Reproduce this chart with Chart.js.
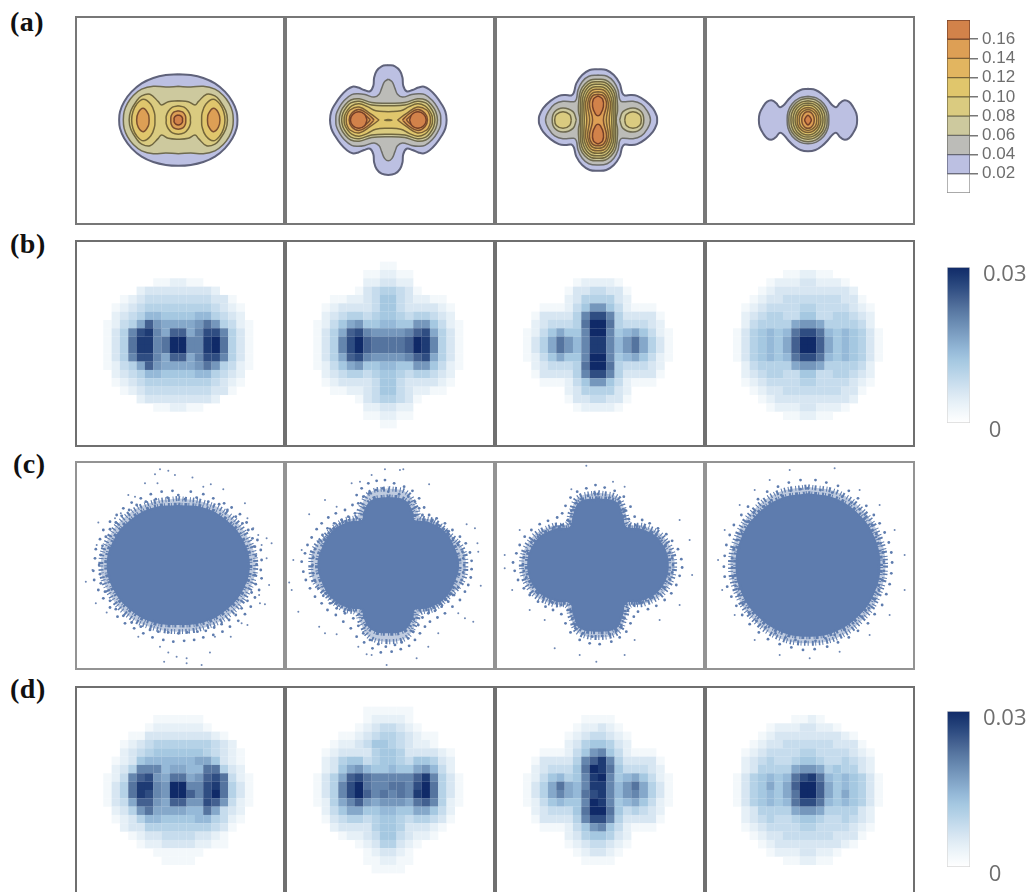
<!DOCTYPE html>
<html>
<head>
<meta charset="utf-8">
<script src="https://cdn.jsdelivr.net/npm/chart.js@4"></script>
<style>
html, body { margin: 0; padding: 0; background: #fff; width: 1034px; height: 892px; overflow: hidden; }
#page { position: relative; width: 1034px; height: 892px; overflow: hidden; }
canvas { position: absolute; }
canvas.panel { filter: blur(0.6px); }
.tag { position: absolute; font: bold 28px "Liberation Serif", serif; color: #111; line-height: 1; letter-spacing: 0.5px; }
</style>
</head>
<body>
<div id="page"></div>
<script>
// contour bands, low to high
const legendTicks = [0.02, 0.04, 0.06, 0.08, 0.10, 0.12, 0.14, 0.16];
const legendBands = [0.02, 0.02, 0.02, 0.02, 0.02, 0.02, 0.02, 0.02, 0.02];
const legendFill = ['#ffffff', '#bcc0e2', '#bcbcb8', '#cdc99e', '#dacb80', '#e0c66c', '#e2b560', '#dd9f55', '#d2824a'];
const legendLine = ['#8e8e8e', '#5f627a', '#6c6c68', '#6e6a50', '#6f6640', '#74663a', '#7a5f35', '#7a4f30', '#743f28'];

// colour bar
const barMax = 0.03;
const barTicks = [0, 0.03];
const heatColors = ['#ffffff', '#f3f8fb', '#e6f0f7', '#d7e6f2', '#c6dced', '#b5d2e7', '#a5c8e1', '#95b9d8',
  '#85a8ca', '#7597bc', '#6586ae', '#55749f', '#436090', '#2f4d82', '#1e3b74', '#102a68'];

// row (a): [band, kind, x,y list]. q = one quadrant, h = upper half of a side lobe, v = right half of a top lobe
const contoursA1 = [
  [1, 'q', [0,5.5, 1.5,5.4, 3,5.05, 4.4,4.4, 5.6,3.4, 6.5,2.2, 7,1, 7.1,0]],
  [3, 'q', [0,4.05, 1.5,3.95, 3,4.05, 4.4,3.7, 5.4,2.95, 6.1,2, 6.5,1, 6.6,0]],
  [4, 'q', [0,2.3, 1.2,2.2, 2,1.8, 2.4,2.2, 3.4,3.1, 4.4,2.9, 5,2.3, 5.7,1.1, 5.9,0]],
  [5, 'h', [2.8,0, 2.85,0.8, 3.3,1.9, 4.2,2.5, 5,1.9, 5.45,1, 5.6,0]],
  [5, 'q', [0,1.7, 0.7,1.55, 1.2,1.05, 1.45,0.45, 1.45,0]],
  [7, 'h', [3.5,0, 3.6,0.7, 4.2,1.4, 4.8,0.9, 5,0]],
  [7, 'q', [0,1.1, 0.55,0.95, 0.85,0.5, 0.9,0]],
  [8, 'q', [0,0.6, 0.3,0.5, 0.5,0.25, 0.5,0]]
];
const contoursA2 = [
  [1, 'q', [0,6.6, 0.8,6.45, 1.4,5.9, 1.7,5.1, 1.8,4.1, 2.2,3.45, 2.9,3.6, 3.6,3.9, 4.3,4, 5,3.6, 5.7,2.9, 6.4,1.9, 6.85,1, 7,0]],
  [2, 'q', [0,4.9, 0.45,4.6, 0.8,3.8, 1.1,3.1, 1.7,2.75, 2.8,3.05, 3.6,3.15, 4.4,3.05, 5.3,2.35, 5.9,1.5, 6.25,0.7, 6.3,0]],
  [3, 'q', [0,2, 2,2.1, 3.5,2.55, 4.5,2.4, 5.2,1.8, 5.7,1, 5.9,0]],
  [4, 'q', [0,1.7, 2,1.8, 3.5,2.25, 4.5,2.05, 5.05,1.5, 5.45,0.8, 5.6,0]],
  [5, 'q', [0,1, 1.5,1.1, 2.5,1.6, 3.5,1.95, 4.4,1.7, 4.95,1.1, 5.25,0.5, 5.3,0]],
  [6, 'h', [1.1,0, 2.2,0.8, 3.5,1.55, 4.6,1.2, 5,0.5, 5.05,0]],
  [7, 'h', [1.7,0, 2.5,0.75, 3.55,1.25, 4.4,0.8, 4.7,0]],
  [7, 'h', [2.15,0, 2.8,0.6, 3.55,0.95, 4.2,0.6, 4.4,0]],
  [8, 'h', [2.55,0, 2.85,0.7, 3.55,1, 4.25,0.7, 4.55,0]],
  [5, 'q', [0,0.06, 0.45,0]]
];
const contoursA3 = [
  [1, 'q', [0,6.1, 1,6, 1.9,5.4, 2.6,4.4, 2.9,3.3, 3.2,2.95, 3.9,3, 4.7,2.9, 5.7,2.3, 6.6,1.4, 7.05,0.5, 7.1,0]],
  [2, 'q', [0,5.4, 1.1,5.25, 1.9,4.6, 2.4,3.6, 2.6,2.5, 2.9,2.2, 4.2,2.25, 5.2,1.9, 5.9,1.1, 6.3,0]],
  [3, 'h', [2.6,0, 3,1, 4.2,1.45, 5.2,1, 5.5,0]],
  [4, 'h', [3.2,0, 3.4,0.65, 4.2,1, 5,0.65, 5.2,0]],
  [3, 'q', [0,4.9, 0.9,4.8, 1.6,4.3, 2.1,3.5, 2.3,2.4, 2.35,1.1, 2.2,0.3, 2.2,0]],
  [4, 'q', [0,4.6, 0.85,4.5, 1.5,4, 1.95,3.2, 2.1,2.2, 2.1,0]],
  [4, 'q', [0,4.3, 0.8,4.2, 1.35,3.75, 1.75,3, 1.9,2.1, 1.9,0]],
  [5, 'q', [0,4, 0.7,3.9, 1.2,3.5, 1.55,2.8, 1.7,2, 1.65,0]],
  [6, 'q', [0,3.7, 0.65,3.6, 1.05,3.25, 1.35,2.6, 1.5,1.9, 1.35,0]],
  [6, 'q', [0,3.4, 0.55,3.3, 0.9,3, 1.15,2.4, 1.25,1.7, 1,0]],
  [7, 'q', [0,3.1, 0.5,3, 0.8,2.7, 1,2.2, 1,1.6, 0.65,0]],
  [8, 'v', [0,2.9, 0.55,2.5, 0.65,1.6, 0.3,0.7, 0,0.5]]
];
const contoursA4 = [
  [1, 'q', [0,3.75, 0.9,3.6, 1.7,3.1, 2.4,2.4, 3,1.7, 3.4,1.55, 3.8,2, 4.3,2.35, 4.9,2.2, 5.4,1.6, 5.8,0.8, 5.9,0]],
  [2, 'q', [0,2.85, 1,2.65, 1.9,1.95, 2.4,1, 2.5,0]],
  [3, 'q', [0,2.6, 0.9,2.42, 1.7,1.77, 2.2,0.9, 2.3,0]],
  [4, 'q', [0,2.3, 0.8,2.14, 1.55,1.56, 1.95,0.8, 2.05,0]],
  [4, 'q', [0,2.05, 0.7,1.9, 1.35,1.4, 1.7,0.7, 1.8,0]],
  [5, 'q', [0,1.8, 0.6,1.67, 1.15,1.2, 1.45,0.6, 1.55,0]],
  [6, 'q', [0,1.5, 0.5,1.4, 1,1, 1.25,0.5, 1.3,0]],
  [6, 'q', [0,1.25, 0.4,1.16, 0.8,0.85, 1,0.45, 1.05,0]],
  [7, 'q', [0,1, 0.3,0.93, 0.55,0.68, 0.7,0.35, 0.75,0]],
  [8, 'q', [0,0.6, 0.25,0.35, 0.4,0]]
];

// rows (b) and (d): density, one hex digit per cell (f = top of colour bar)
const heatB1 = ['000000000000000000','000000000000000000','000000112211000000','000023333333320000','001234444444433100',
  '012345555555543210','023457766667754320','12458c988889b95421','135adea8cc8adda531','135beeabffaaefb531',
  '135beeabffaaefb531','135adda8cc8adda531','12458c988889b95421','023457766667754320','012345555555543210',
  '001234444444433100','000023333333320000','000000112211000000','000000000000000000','000000000000000000'];
const heatB2 = ['000000001100000000','000000112211000000','000000223322000000','000001345543100000','001122346643221100',
  '012333346643333210','023455456654554320','124689667766996421','1358cda9999acd8531','135adfcbbbbcfea531',
  '135adfcbbbbcfea531','1358cda9999acd8531','124689667766996421','023455456654554320','012333346643333210',
  '001122346643221100','000001345543100000','000000223322000000','000000112211000000','000000001100000000'];
const heatB3 = ['000000000000000000','000000000000000000','000000122221000000','000001334433100000','000002355553200000',
  '001112469964211100','0133335adda5333310','0234445bffb5444320','1246866affa6786421','1358b97aeea79b8531',
  '1358b97aeea79b8531','1246866affa6786421','0234445bffb5444320','0133335adda5333310','001112469964211100',
  '000002355553200000','000001334433100000','000000122221000000','000000000000000000','000000000000000000'];
const heatB4 = ['000000000000000000','000000112211000000','000012223322210000','000123333333332000','001233444444433100',
  '012344445544443210','023455446644554320','024555589985555420','1356767bddb7676531','1356768cffc8676531',
  '1356768cffc8676531','1356767bddb7676531','024555589985555420','023455446644554320','012344445544443210',
  '001233444444433100','000123333333332000','000012223322210000','000000112211000000','000000000000000000'];
const heatD1 = ['000000000000000000','000000111111000000','000001222222100000','000113333333321000','001234555555543200',
  '002345666666543210','012367777778863210','0235aaa78877bb5320','124acd98bb89cdb421','135beea9ffaadeb531',
  '135beda9ffcadfb531','1348cc98cc99dc9421','02359b888877b84320','012357766667754210','002335555555543100',
  '000123344443321000','000012233332211000','000000111111000000','000000011110000000','000000000000000000'];
const heatD2 = ['000000111111000000','000000122221000000','000001234432100000','000112345543211000','001223466543221000',
  '012333356653333210','023566456654665320','023689766766897420','1358cdbaaaaacea531','135adfbaabbadfb531',
  '135adfcababaefb531','1258ac989998bca521','024688667766886420','013455456654554310','002333356653332100',
  '000122346643221000','000001235532100000','000000123321000000','000000112211000000','000000011110000000'];
const heatD3 = ['000000000000000000','000000011110000000','000000122321000000','000001234432100000','000002356653200000',
  '001112469a64211100','0133335acea5333310','0234446bfeb6444320','1246756aefa6786421','1358b87aeea79b8531',
  '1358a87bdea79a8531','1246766afea6786421','0234446bffb6454320','0133335adda5333310','001112469a64211100',
  '000002356653200000','000001234432100000','000000123321000000','000000011110000000','000000000000000000'];
const heatD4 = ['000000000000000000','000000011210000000','000012223322100000','000123333333321000','001233444444333100',
  '012344445544443210','023454456654454320','023555589985655320','1356767bdeb7676531','1356868cffc8676531',
  '1356768bffc8686531','1356767bddb7676531','023555589985555320','023454456654454320','012344445544443210',
  '001233444444333100','000123333333321000','000012223322100000','000000112211000000','000000000000000000'];

// row (c): dense core, thinning rim (quadrants) and the samples read around them
const cloudCore = [
  [0,7.2, 3,6.9, 5.5,5.6, 7.6,3.3, 8.6,0],
  [0,8.2, 2,7.8, 3,6.3, 3.2,5.4, 4.8,5.2, 6.8,4, 8,2, 8.5,0],
  [0,8, 2.2,7.6, 3,6, 3.4,4.6, 5,4.4, 7.4,3, 8.5,0],
  [0,8.6, 3.3,8, 6.2,6, 8,3.3, 8.7,0]
];
const cloudRim = [
  [0,8, 3.2,7.5, 6,6.1, 8.3,3.4, 9.3,0],
  [0,9.2, 2.2,8.7, 3.4,6.8, 3.8,5.8, 5.5,5.3, 7.6,3.5, 9,1.8, 9.3,0],
  [0,8.7, 2.4,8.1, 3.3,6.3, 3.8,4.9, 5.5,4.7, 8,3.2, 9.2,0],
  [0,9.4, 3.6,8.7, 6.7,6.4, 8.6,3.4, 9.3,0]
];
const cloudStray1 = [-2.2,11.5, -1.2,11.3, -2.8,10.9, -0.4,10.8, 1.7,10.5, -4,9.8, -2.5,9.8, 3.9,9.7, 3,9.4, 5.4,9.1,
  -9.6,5.1, 10.6,3.2, 11.2,2.6, -11.1,-2, -9.9,-4.6, 10.9,-2.4, 9.8,-4.6, 10.4,-4.7, -8.6,-5.7, 8.3,-7.2, 7.6,-7,
  -4.8,-8.6, -2.2,-9.8, -1.2,-10.5, -0.2,-11, 1,-11.2, 3.8,-10.5, 2.8,-12, 1,-11.8, -1.7,-11.6, 6.3,-8.6, 4.4,-8.6,
  -6,8.4, -5.2,8.2, -7.6,5.6, -6.9,6.2, -9.8,2.4, -10.3,-0.6, 9.6,3.6, 9,4.4, 8,7.4, 8.3,5.6, 10,2.4, 10.6,0.8, 9.7,-3.6];
const cloudStray2 = [-0.4,11.5, 1.4,11.4, -2,10.8, 1.8,11.5, 4.9,9.7, -3.4,10, -4.4,9.8, -7.6,7.8, -9.5,6.1, -6.2,7,
  10.4,4.4, 9.4,4.9, 10.7,2.6, 10.8,1.6, 11.1,-2.5, -11.6,-3, -11.9,-2.1, -11.4,0.6, -10.4,1.8, -10.8,-5.6, -8.3,-7.4,
  -7.6,-8.2, -6.2,-8.3, 10.2,-6.8, 9.2,-6.4, 6,-8.2, 3.4,-11.2, -0.2,-12, -2.6,-10.7, -3.6,-9.8, -2,-10.8, 4.8,-9.8, 8.4,-5.8];
const cloudStray3 = [-1.4,11.9, 1.8,10, -3.2,9.1, 3.2,9.4, -9.4,4.2, -11.2,1.2, -11.2,-0.4, -10.3,-3, 9.8,5.4, 11,3, 11.3,-1.2,
  9.8,-4.8, 7.4,-6.6, -6.4,-6.6, -8.2,-5.4, -5.2,-10, 3.2,-10.8, -0.2,-11.6, -2.2,-10.8, 4.4,-9];
const cloudStray4 = [0.8,12.4, 3.2,11.6, -2.2,11.4, -4.6,10.2, -6.4,9, 6.2,9, 8.6,7.2, 10.4,4.2, 11.6,1.2, 11.6,-3, 9.8,-6,
  7.4,-8.4, 3.8,-10.4, 0.2,-11.2, -3.4,-10.8, -6.4,-9, -8.8,-6, -10.3,-3, -10.8,0.6, -10,4.2, -8.2,7.2];
const cloudEdge1 = [0,8.4, 0.8,7.9, 1.5,8.8, 2.2,8.1, 3,8.5, 3.6,7.6, 4.2,8, 4.9,7.3, 5.5,7.4, 5.9,6.6, 6.4,6.9, 6.9,5.8, 7.4,6.1, 7.7,5,
  8.2,5.1, 8.4,4.2, 8.9,4.3, 8.9,3.2, 9.5,3, 9.2,2.2, 9.9,1.8, 9.3,1.1, 10,0.6, 9.4,0.1, 9.9,-0.6, 9.2,-1.2, 10,-1.6, 9.3,-2.3, 9.7,-3,
  8.8,-3.3, 9.2,-3.9, 8.3,-4.3, 8.7,-5, 7.6,-5.2, 8,-5.9, 6.9,-6, 7.2,-6.7, 6.1,-6.6, 6.2,-7.4, 5.2,-7.1, 5.3,-8, 4.3,-7.5, 4.2,-8.4,
  3.3,-7.9, 3,-8.7, 2.3,-8, 1.9,-9, 1.1,-8.1, 0.7,-9.1, 0,-8.2, -0.6,-9.2, -1.2,-8.1, -1.8,-9, -2.4,-8, -3.1,-8.7, -3.4,-7.8, -4.2,-8.2,
  -4.5,-7.4, -5.3,-7.6, -5.6,-6.9, -6.4,-7, -6.6,-6.1, -7.3,-6.2, -7.5,-5.3, -8.2,-5.1, -8.2,-4.3, -9,-4, -8.8,-3.2, -9.6,-3, -9.3,-2.2,
  -10.1,-1.8, -9.4,-1.1, -10.2,-0.7, -9.5,0, -10,0.8, -9.3,1.2, -9.9,1.9, -9.1,2.3, -9.4,3.1, -8.7,3.4, -9,4.2, -8.2,4.3, -8.2,5.2,
  -7.5,5.1, -7.4,6, -6.8,5.9, -6.6,6.8, -5.9,6.6, -5.6,7.5, -5,7.2, -4.5,8, -3.9,7.6, -3.3,8.5, -2.7,7.9, -2,8.8, -1.3,8.1, -0.7,8.9];
const cloudEdge2 = [0,8.8, 0.7,9.8, 1.3,8.5, 1.9,9.4, 2.4,8.2, 2.9,8.9, 3.2,7.6, 3.7,8, 3.7,6.8, 4.3,6.9, 4.1,6, 4.9,6, 5.3,5.4, 5.8,5.6,
  6.2,4.7, 6.8,5, 7.1,4.1, 7.7,4.2, 7.8,3.2, 8.6,3.4, 8.4,2.4, 9.3,2.6, 8.9,1.6, 9.8,1.5, 9,0.8, 10,0.5, 9.1,0, 10,-0.5, 9,-0.9, 9.9,-1.5,
  8.8,-1.8, 9.6,-2.4, 8.4,-2.7, 9.2,-3.2, 7.9,-3.6, 8.6,-4.2, 7.2,-4.4, 7.7,-5, 6.4,-5, 6.8,-5.8, 5.6,-5.5, 5.9,-6.3, 4.8,-5.8, 5,-6.8,
  4.1,-6.3, 4.4,-7.4, 3.6,-7.2, 3.8,-8.2, 3,-8, 3.2,-9, 2.4,-8.8, 2.5,-9.7, 1.6,-9.3, 1.5,-10.1, 0.8,-9.6, 0.4,-10.4, -0.3,-9.8, -0.9,-10.5,
  -1.2,-9.5, -1.9,-10, -2.2,-9, -2.9,-9.3, -3,-8.2, -3.8,-8.6, -3.6,-7.3, -4.5,-7.6, -4.2,-6.4, -5.4,-6.8, -5.2,-5.8, -6.3,-6, -6.2,-5.2,
  -7.3,-5.4, -7,-4.6, -8,-4.6, -7.8,-3.7, -8.8,-3.8, -8.4,-2.8, -9.4,-2.8, -8.8,-1.9, -9.9,-1.8, -9,-1, -10.2,-0.8, -9.1,0, -10.4,0.4,
  -9,0.9, -10,1.4, -8.8,1.9, -9.7,2.4, -8.4,2.8, -9.2,3.3, -7.9,3.6, -8.6,4.3, -7.3,4.4, -8,5, -6.5,5, -7.2,5.7, -5.6,5.4, -6.3,6.2,
  -4.8,5.8, -5.2,6.6, -4,6.2, -4.3,7.2, -3.6,7.4, -3.8,8.4, -3,8.2, -3.2,9.2, -2.3,8.6, -2.4,9.8, -1.5,9, -1.4,10.1, -0.7,9.2, -0.4,10.2];
const cloudEdge3 = [0,8.5, 0.8,9.3, 1.4,8.1, 2,8.9, 2.6,7.6, 3.1,8.2, 3.2,6.6, 3.9,7, 3.7,5.5, 4.4,5.8, 4.5,4.8, 5.3,5.4, 5.6,4.5, 6.2,5,
  6.5,3.9, 7.2,4.4, 7.4,3.2, 8.2,3.7, 8.1,2.4, 8.9,2.9, 8.6,1.5, 9.6,1.9, 8.9,0.8, 10,0.7, 9,0, 10.1,-0.3, 8.9,-0.9, 9.8,-1.3, 8.6,-1.7,
  9.4,-2.4, 8,-2.7, 8.8,-3.4, 7.2,-3.4, 8,-4.2, 6.3,-4, 7,-4.9, 5.3,-4.5, 6,-5.3, 4.3,-4.8, 4.8,-5.6, 3.6,-5.4, 4.3,-6.2, 3.2,-6.4, 3.9,-7,
  2.8,-7.4, 3.4,-8, 2.2,-7.9, 2.6,-8.7, 1.4,-8.3, 1.6,-9.2, 0.5,-8.5, 0.2,-9.5, -0.7,-8.6, -1,-9.4, -1.8,-8.2, -2.2,-9, -2.7,-7.6, -3.3,-8.1,
  -3.1,-6.5, -3.9,-7, -3.6,-5.4, -4.4,-5.9, -4.4,-4.8, -5.4,-5.4, -5.5,-4.5, -6.3,-5, -6.5,-3.9, -7.2,-4.4, -7.4,-3.2, -8.2,-3.6, -8,-2.4,
  -8.9,-2.8, -8.6,-1.5, -9.6,-1.8, -8.9,-0.7, -10,-0.7, -9,0.1, -10.2,0.3, -8.9,0.9, -9.8,1.4, -8.5,1.7, -9.4,2.4, -8,2.7, -8.8,3.4, -7.2,3.4,
  -8,4.2, -6.3,4, -7,4.9, -5.3,4.5, -6,5.3, -4.3,4.8, -4.9,5.7, -3.6,5.4, -4.3,6.2, -3.2,6.5, -3.9,7.1, -2.7,7.4, -3.3,8.1, -2,7.9, -2.5,8.8,
  -1.2,8.3, -1.4,9.2, -0.4,8.6, -0.3,9.6];
const cloudEdge4 = [0,9.2, 0.9,10.2, 1.5,9, 2.2,9.9, 2.9,8.7, 3.6,9.5, 4.1,8.2, 4.9,8.9, 5.2,7.5, 6,8, 6.2,6.7, 7,7.1, 7,5.8, 7.9,6, 7.7,4.8,
  8.6,5, 8.2,3.7, 9.2,3.9, 8.7,2.6, 9.7,2.7, 9,1.5, 10,1.5, 9.1,0.4, 10.1,0.3, 9.1,-0.7, 10,-1, 8.9,-1.8, 9.8,-2.3, 8.5,-3, 9.4,-3.5, 8,-4.1,
  8.9,-4.8, 7.3,-5.2, 8,-5.9, 6.5,-6.2, 7.2,-7, 5.4,-7, 6,-7.9, 4.4,-7.8, 4.9,-8.7, 3.2,-8.4, 3.6,-9.3, 2.1,-8.8, 2.3,-9.8, 0.9,-9.1, 0.8,-10.1,
  -0.3,-9.2, -0.6,-10.2, -1.5,-9, -2,-9.9, -2.7,-8.7, -3.4,-9.5, -3.9,-8.2, -4.8,-8.9, -5.1,-7.5, -5.9,-8.1, -6.2,-6.7, -7,-7.1, -7.1,-5.7,
  -7.9,-6, -7.8,-4.7, -8.6,-4.9, -8.3,-3.6, -9.2,-3.8, -8.7,-2.5, -9.7,-2.6, -9,-1.4, -10,-1.4, -9.1,-0.3, -10.1,-0.2, -9.1,0.8, -10,1.1,
  -8.9,1.9, -9.8,2.4, -8.5,3, -9.4,3.6, -8,4.1, -8.9,4.8, -7.3,5.2, -8,6, -6.5,6.3, -7.2,7, -5.4,7, -6,7.9, -4.4,7.8, -4.9,8.8, -3.2,8.4,
  -3.6,9.4, -2.1,8.9, -2.3,9.9, -0.9,9.1, -0.9,10.2];

// page layout
const cellPx = 8.33;
const columnLeft = [75, 285, 495, 705];
const columnWidth = 210;
const midX = [178.3, 388.3, 598, 808];
const rowsLayout = {
  a: {top: 16, height: 209, mid: 120, color: '#777777'},
  b: {top: 240, height: 207, mid: 345, color: '#6f6f6f'},
  c: {top: 461, height: 209, mid: 565, color: '#939393'},
  d: {top: 686, height: 209, mid: 790, color: '#6f6f6f'}
};

const page = document.getElementById('page');

function addCanvas(left, top, width, height, cls) {
  const c = document.createElement('canvas');
  c.width = width;
  c.height = height;
  c.style.left = left + 'px';
  c.style.top = top + 'px';
  c.style.width = width + 'px';
  c.style.height = height + 'px';
  if (cls) c.className = cls;
  page.appendChild(c);
  return c;
}

function toPoints(list) {
  const pts = [];
  for (let i = 0; i < list.length; i += 2) pts.push({x: list[i], y: list[i + 1]});
  return pts;
}

// close a listed outline by reflecting it over the axes
function closeQuadrant(list) {
  const p = toPoints(list);
  const lower = p.slice(0, -1).reverse().map(o => ({x: o.x, y: -o.y}));
  const right = p.concat(lower);
  const left = right.slice(0, -1).reverse().map(o => ({x: -o.x, y: o.y}));
  return [right.concat(left)];
}
function closeSideLobes(list) {
  const p = toPoints(list);
  const lower = p.slice(0, -1).reverse().map(o => ({x: o.x, y: -o.y}));
  const lobe = p.concat(lower);
  return [lobe, lobe.map(o => ({x: -o.x, y: o.y}))];
}
function closeTopLobes(list) {
  const p = toPoints(list);
  const left = p.slice(0, -1).reverse().map(o => ({x: -o.x, y: o.y}));
  const lobe = p.concat(left);
  return [lobe, lobe.map(o => ({x: o.x, y: -o.y}))];
}

function contourSets(contours) {
  const sets = [];
  contours.forEach(function (c) {
    const shapes = c[1] === 'q' ? closeQuadrant(c[2]) : c[1] === 'h' ? closeSideLobes(c[2]) : closeTopLobes(c[2]);
    shapes.forEach(function (shape) {
      sets.push({
        data: shape, showLine: true, pointRadius: 0, tension: 0.4, fill: 'shape',
        backgroundColor: legendFill[c[0]], borderColor: legendLine[c[0]],
        borderWidth: c[0] === 1 ? 2 : 1.5
      });
    });
  });
  // first dataset is painted last
  return sets.reverse();
}

function heatSets(rows) {
  const pts = [];
  rows.forEach(function (row, r) {
    for (let c = 0; c < row.length; c++) {
      const v = parseInt(row[c], 16);
      if (v > 0) pts.push({x: c - 8.5, y: 9.5 - r, v: v / 15 * barMax});
    }
  });
  return [{
    data: pts, pointStyle: 'rect', pointRadius: 6, pointBorderWidth: 0, pointHoverRadius: 6,
    pointBackgroundColor: pts.map(p => heatColors[Math.round(p.v / barMax * 15)])
  }];
}

function cloudSets(core, rim, stray, edge) {
  const blue = '#5e7cae';
  return [
    {data: toPoints(stray), pointRadius: 1, pointBorderWidth: 0, pointBackgroundColor: '#6f88b4'},
    {data: toPoints(edge), pointRadius: 1.4, pointBorderWidth: 0, pointBackgroundColor: blue},
    // broken strokes along the two outlines stand in for the grainy edge of the sample cloud
    {data: closeQuadrant(core)[0], showLine: true, pointRadius: 0, tension: 0.4, fill: 'shape', backgroundColor: blue,
      borderColor: blue, borderWidth: 5, borderDash: [2, 1, 1, 2, 3, 1, 1, 3]},
    {data: closeQuadrant(rim)[0], showLine: true, pointRadius: 0, tension: 0.4, fill: 'shape', backgroundColor: 'rgba(94,124,174,0.4)',
      borderColor: blue, borderWidth: 5, borderDash: [1.5, 2.5, 1, 1.5, 2, 3, 1, 2]}
  ];
}

const framePlugin = {
  id: 'frame',
  afterDraw(chart, args, opts) {
    const a = chart.chartArea, ctx = chart.ctx;
    ctx.save();
    ctx.strokeStyle = opts.color;
    ctx.lineWidth = 2;
    ctx.strokeRect(a.left + 1, a.top + 1, a.width - 2, a.height - 2);
    ctx.restore();
  }
};

function panel(col, rowName, datasets) {
  const left = columnLeft[col], row = rowsLayout[rowName];
  const canvas = addCanvas(left, row.top, columnWidth, row.height, 'panel');
  new Chart(canvas.getContext('2d'), {
    type: 'scatter',
    data: {datasets: datasets},
    options: {
      responsive: false, animation: false, devicePixelRatio: 1,
      plugins: {legend: {display: false}, tooltip: {enabled: false}, frame: {color: row.color}},
      layout: {padding: 0, autoPadding: false},
      scales: {
        x: {display: false, min: (left - midX[col]) / cellPx, max: (left + columnWidth - midX[col]) / cellPx},
        y: {display: false, min: (row.mid - row.top - row.height) / cellPx, max: (row.mid - row.top) / cellPx}
      }
    },
    plugins: [framePlugin]
  });
}

[contoursA1, contoursA2, contoursA3, contoursA4].forEach((c, i) => panel(i, 'a', contourSets(c)));
[heatB1, heatB2, heatB3, heatB4].forEach((h, i) => panel(i, 'b', heatSets(h)));
[[cloudStray1, cloudEdge1], [cloudStray2, cloudEdge2], [cloudStray3, cloudEdge3], [cloudStray4, cloudEdge4]]
  .forEach((s, i) => panel(i, 'c', cloudSets(cloudCore[i], cloudRim[i], s[0], s[1])));
[heatD1, heatD2, heatD3, heatD4].forEach((h, i) => panel(i, 'd', heatSets(h)));

// stepped legend of row (a)
new Chart(addCanvas(947, 10, 87, 193).getContext('2d'), {
  type: 'bar',
  data: {
    labels: [''],
    datasets: legendBands.map((v, i) => ({
      data: [v], backgroundColor: legendFill[i], borderColor: legendLine[i], borderWidth: 1, borderSkipped: false,
      barPercentage: 1, categoryPercentage: 1
    }))
  },
  options: {
    responsive: false, animation: false, devicePixelRatio: 1,
    plugins: {legend: {display: false}, tooltip: {enabled: false}},
    layout: {padding: {top: 10, bottom: 10, left: 0, right: 0}, autoPadding: false},
    scales: {
      x: {display: false, stacked: true},
      y: {
        stacked: true, position: 'right', min: 0, max: 0.18,
        afterFit: s => { s.width = 64; s.paddingTop = 0; s.paddingBottom = 0; },
        afterBuildTicks: s => { s.ticks = legendTicks.map(v => ({value: v})); },
        border: {display: false},
        grid: {drawOnChartArea: false, tickLength: 8, color: '#777777', lineWidth: 1.5},
        ticks: {padding: 4, color: '#6e6e6e', font: {family: 'Liberation Sans', size: 17}, callback: v => v.toFixed(2)}
      }
    }
  }
});

// gradient colour bars of rows (b) and (d)
function colorBar(top) {
  new Chart(addCanvas(947, top - 20, 87, 210).getContext('2d'), {
    type: 'bar',
    data: {
      labels: [''],
      datasets: [{
        data: [barMax], barPercentage: 1, categoryPercentage: 1, borderColor: '#d8d8d8', borderWidth: 1, borderSkipped: false,
        backgroundColor: function (ctx) {
          const area = ctx.chart.chartArea;
          if (!area) return '#ffffff';
          const g = ctx.chart.ctx.createLinearGradient(0, area.bottom, 0, area.top);
          heatColors.forEach((c, i) => g.addColorStop(i / 15, c));
          return g;
        }
      }]
    },
    options: {
      responsive: false, animation: false, devicePixelRatio: 1,
      plugins: {legend: {display: false}, tooltip: {enabled: false}},
      layout: {padding: {top: 20, bottom: 34, left: 0, right: 0}, autoPadding: false},
      scales: {
        x: {display: false},
        y: {
          position: 'right', min: 0, max: barMax,
          afterFit: s => { s.width = 64; s.paddingTop = 0; s.paddingBottom = 0; },
          afterBuildTicks: s => { s.ticks = barTicks.map(v => ({value: v})); },
          border: {display: false},
          grid: {display: false, drawTicks: false},
          ticks: {padding: 13, labelOffset: 8, color: '#6e6e6e', font: {family: 'Open Sans', size: 22},
            callback: v => v === 0 ? '\u00a00' : String(v)}
        }
      }
    }
  });
}
colorBar(267);
colorBar(711);

// panel letters
[['(a)', 10, 8], ['(b)', 10, 230], ['(c)', 13, 450], ['(d)', 10, 675]].forEach(function (t) {
  const d = document.createElement('div');
  d.className = 'tag';
  d.textContent = t[0];
  d.style.left = t[1] + 'px';
  d.style.top = t[2] + 'px';
  page.appendChild(d);
});
</script>
</body>
</html>
